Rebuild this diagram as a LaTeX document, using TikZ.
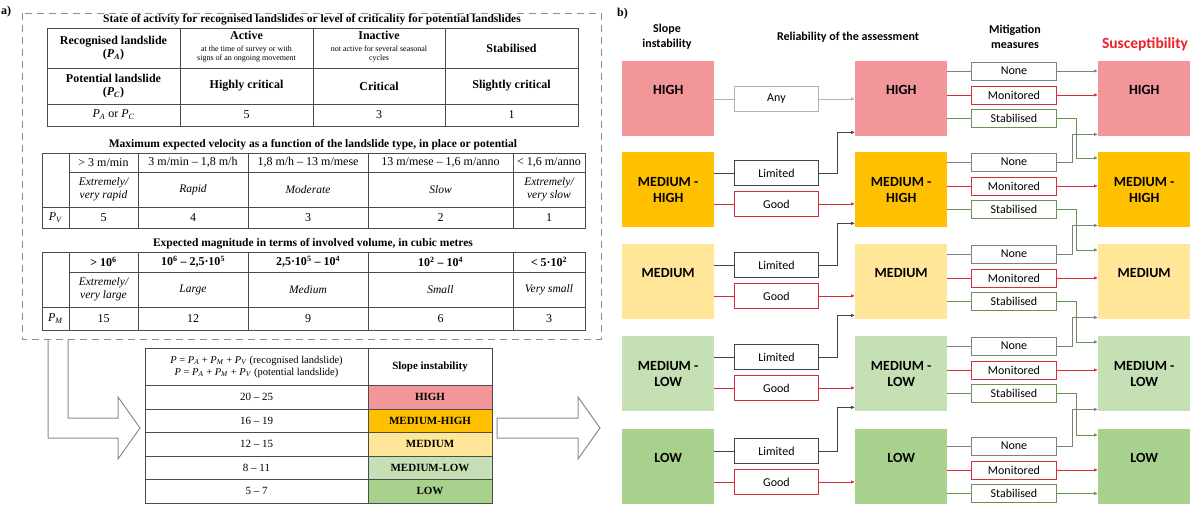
\documentclass[tikz,border=0pt]{standalone}
\usepackage{fontspec}
\setmainfont{Liberation Serif}
\newfontfamily\calib{Carlito}
\usetikzlibrary{arrows.meta, positioning}

\definecolor{cHigh}{RGB}{242,150,153}
\definecolor{cMedHigh}{RGB}{255,192,0}
\definecolor{cMed}{RGB}{255,230,153}
\definecolor{cMedLow}{RGB}{197,224,180}
\definecolor{cLow}{RGB}{169,209,142}
\definecolor{lnGrey}{RGB}{125,128,132}
\definecolor{lnDark}{RGB}{62,68,76}
\definecolor{lnRed}{RGB}{214,45,58}
\definecolor{lnGreen}{RGB}{104,146,82}
\definecolor{lnLight}{RGB}{178,178,178}
\definecolor{susRed}{RGB}{236,32,40}
\definecolor{cFrame}{RGB}{140,140,140}

\newcommand{\pp}[1]{\textit{P}\textsubscript{\textit{#1}}}
\newcommand{\sm}[1]{{\fontsize{8}{9}\selectfont #1}}

\begin{document}
\begin{tikzpicture}[x=1pt, y=-1pt, >={Latex[length=4pt,width=3.5pt]},
  tbl/.style={draw=black!70, line width=0.8pt},
  cell/.style={inner sep=0pt, align=center, font=\fontsize{12}{13.5}\selectfont},
  bcell/.style={cell, font=\bfseries\fontsize{12}{13.5}\selectfont},
  icell/.style={cell, font=\itshape\fontsize{11.5}{13}\selectfont},
  ttl/.style={inner sep=0pt, font=\bfseries\fontsize{11.5}{13}\selectfont},
  big/.style={anchor=north west, minimum width=92pt, minimum height=75pt, inner sep=0pt, align=center, font=\calib\bfseries\fontsize{14}{16}\selectfont},
  rel/.style={draw, anchor=north west, minimum width=84pt, minimum height=25pt, inner sep=0pt, line width=0.9pt, fill=white, font=\calib\fontsize{12}{14}\selectfont},
  mit/.style={rel, minimum width=85pt, minimum height=18pt},
  hd/.style={align=center, inner sep=0pt, font=\calib\bfseries\fontsize{12}{15}\selectfont},
  ln/.style={line width=0.9pt}]

\fill[white] (0,0) rectangle (1195,506);
\useasboundingbox (0,0) rectangle (1195,506);

% a) tables
\node[ttl, anchor=west, font=\bfseries\fontsize{12}{12}\selectfont] (la) at (1,12) {a)};
\draw[cFrame, line width=1pt, dash pattern=on 7pt off 5pt] (22,13) rectangle (601,339);

\node[ttl] (t1) at (312,20) {State of activity for recognised landslides or level of criticality for potential landslides};
\draw[tbl] (47,28) rectangle (578,126) (47,68) -- (578,68) (47,104) -- (578,104)
  (180,28) -- (180,126) (313,28) -- (313,126) (445,28) -- (445,126);
\node[bcell] (rec) at (113.5,48) {Recognised landslide\\(\pp{A})};
\node[cell] (act) at (246.5,47) {\textbf{Active}\\[-2pt]\sm{at the time of survey or with}\\[-4pt]\sm{signs of an ongoing movement}};
\node[cell] (inact) at (379,47) {\textbf{Inactive}\\[-2pt]\sm{not active for several seasonal}\\[-4pt]\sm{cycles}};
\node[bcell] (stabl) at (511.5,48) {Stabilised};
\node[bcell] (pot) at (113.5,86) {Potential landslide\\(\pp{C})};
\node[bcell] (hcrit) at (246.5,86) {Highly critical};
\node[bcell] (crit) at (379,86) {Critical};
\node[bcell] (scrit) at (511.5,86) {Slightly critical};
\node[cell] (pac) at (113.5,115) {\pp{A} or \pp{C}};
\node[cell] (pa5) at (246.5,115) {5};
\node[cell] (pa3) at (379,115) {3};
\node[cell] (pa1) at (511.5,115) {1};

\node[ttl] (t2) at (313,145) {Maximum expected velocity as a function of the landslide type, in place or potential};
\draw[tbl] (42,153) rectangle (585,228) (69,172) -- (585,172) (42,207) -- (585,207)
  (69,153) -- (69,228) (138,153) -- (138,228) (248,153) -- (248,228) (368,153) -- (368,228) (513,153) -- (513,228);
\node[cell] (v1) at (103.5,162.5) {> 3 m/min};
\node[cell] (v2) at (193,162.5) {3 m/min – 1,8 m/h};
\node[cell] (v3) at (308,162.5) {1,8 m/h – 13 m/mese};
\node[cell] (v4) at (440.5,162.5) {13 m/mese – 1,6 m/anno};
\node[cell] (v5) at (549,162.5) {< 1,6 m/anno};
\node[icell] (vc1) at (103.5,189.5) {Extremely/\\very rapid};
\node[icell] (vc2) at (193,189.5) {Rapid};
\node[icell] (vc3) at (308,189.5) {Moderate};
\node[icell] (vc4) at (440.5,189.5) {Slow};
\node[icell] (vc5) at (549,189.5) {Extremely/\\very slow};
\node[cell] (pv) at (55.5,217.5) {\pp{V}};
\node[cell] (pv5) at (103.5,217.5) {5};
\node[cell] (pv4) at (193,217.5) {4};
\node[cell] (pv3) at (308,217.5) {3};
\node[cell] (pv2) at (440.5,217.5) {2};
\node[cell] (pv1) at (549,217.5) {1};

\node[ttl] (t3) at (313,244) {Expected magnitude in terms of involved volume, in cubic metres};
\draw[tbl] (42,252) rectangle (585,330) (69,272) -- (585,272) (42,307) -- (585,307)
  (69,252) -- (69,330) (138,252) -- (138,330) (248,252) -- (248,330) (368,252) -- (368,330) (513,252) -- (513,330);
\node[bcell] (m1) at (103.5,262) {> 10\textsuperscript{6}};
\node[bcell] (m2) at (193,262) {10\textsuperscript{6} – 2,5·10\textsuperscript{5}};
\node[bcell] (m3) at (308,262) {2,5·10\textsuperscript{5} – 10\textsuperscript{4}};
\node[bcell] (m4) at (440.5,262) {10\textsuperscript{2} – 10\textsuperscript{4}};
\node[bcell] (m5) at (549,262) {< 5·10\textsuperscript{2}};
\node[icell] (mc1) at (103.5,289.5) {Extremely/\\very large};
\node[icell] (mc2) at (193,289.5) {Large};
\node[icell] (mc3) at (308,289.5) {Medium};
\node[icell] (mc4) at (440.5,289.5) {Small};
\node[icell] (mc5) at (549,289.5) {Very small};
\node[cell] (pm) at (55.5,318.5) {\pp{M}};
\node[cell] (pm15) at (103.5,318.5) {15};
\node[cell] (pm12) at (193,318.5) {12};
\node[cell] (pm9) at (308,318.5) {9};
\node[cell] (pm6) at (440.5,318.5) {6};
\node[cell] (pm3) at (549,318.5) {3};

% score table
\fill[cHigh] (368,385) rectangle (492,409);
\fill[cMedHigh] (368,409) rectangle (492,432);
\fill[cMed] (368,432) rectangle (492,456);
\fill[cMedLow] (368,456) rectangle (492,479);
\fill[cLow] (368,479) rectangle (492,503);
\draw[tbl] (145,348) rectangle (492,503) (368,348) -- (368,503)
  (145,385) -- (492,385) (145,409) -- (492,409) (145,432) -- (492,432) (145,456) -- (492,456) (145,479) -- (492,479);
\node[cell, font=\fontsize{10.5}{12}\selectfont] (ptot) at (256.5,366.5) {\textit{P} = \pp{A} + \pp{M} + \pp{V} (recognised landslide)\\\textit{P} = \pp{A} + \pp{M} + \pp{V} (potential landslide)};
\node[bcell, font=\bfseries\fontsize{11}{13}\selectfont] (sih) at (430,366.5) {Slope instability};
\node[cell, font=\fontsize{11}{13}\selectfont] (r1) at (256.5,397) {20 – 25};
\node[cell, font=\fontsize{11}{13}\selectfont] (r2) at (256.5,420.5) {16 – 19};
\node[cell, font=\fontsize{11}{13}\selectfont] (r3) at (256.5,444) {12 – 15};
\node[cell, font=\fontsize{11}{13}\selectfont] (r4) at (256.5,467.5) {8 – 11};
\node[cell, font=\fontsize{11}{13}\selectfont] (r5) at (256.5,491) {5 – 7};
\node[bcell, font=\bfseries\fontsize{11}{13}\selectfont] (l1) at (430,397) {HIGH};
\node[bcell, font=\bfseries\fontsize{11}{13}\selectfont] (l2) at (430,420.5) {MEDIUM-HIGH};
\node[bcell, font=\bfseries\fontsize{11}{13}\selectfont] (l3) at (430,444) {MEDIUM};
\node[bcell, font=\bfseries\fontsize{11}{13}\selectfont] (l4) at (430,467.5) {MEDIUM-LOW};
\node[bcell, font=\bfseries\fontsize{11}{13}\selectfont] (l5) at (430,491) {LOW};

% hollow arrows
\draw[cFrame, line width=1pt] (48,339) -- (48,438) -- (118,438) -- (118,459) -- (140,428) -- (118,397) -- (118,418) -- (68,418) -- (68,339);
\draw[cFrame, line width=1pt] (497,418) -- (578,418) -- (578,397) -- (600,428) -- (578,459) -- (578,438) -- (497,438) -- cycle;

% b) flow chart
\node[ttl, anchor=west, font=\bfseries\fontsize{12}{12}\selectfont] (lb) at (617,14) {b)};
\node[hd] (h1) at (667,37) {Slope\\instability};
\node[hd] (h2) at (848,37) {Reliability of the assessment};
\node[hd] (h3) at (1015,37) {Mitigation\\measures};
\node[hd, text=susRed, font=\calib\bfseries\fontsize{15.5}{17}\selectfont] (h4) at (1145,44) {Susceptibility};

\foreach \i/\tp/\cc/\lab/\dd/\mo in {1/61/cHigh/HIGH/17/0, 2/152/cMedHigh/{MEDIUM -\\HIGH}/0/0, 3/244/cMed/MEDIUM/17/0, 4/336/cMedLow/{MEDIUM -\\LOW}/0/0, 5/429/cLow/LOW/17/7}{
  \node[big, fill=\cc, text depth=\dd pt] (si\i) at (622,\tp) {\lab};
  \node[big, fill=\cc, text depth=\dd pt] (rel\i) at (855,\tp) {\lab};
  \node[big, fill=\cc, text depth=\dd pt] (sus\i) at (1098,\tp) {\lab};
  \node[mit, draw=lnGrey] (none\i) at (971,\tp+\mo+0.5) {None};
  \node[mit, draw=lnRed] (mon\i) at (971,\tp+\mo+24.5) {Monitored};
  \node[mit, draw=lnGreen] (stab\i) at (971,\tp+\mo+48) {Stabilised};
}
\node[rel, draw=lnLight] (any1) at (734,86) {Any};
\foreach \i/\tp in {2/152, 3/244, 4/336, 5/430}{
  \node[rel, draw=lnDark] (lim\i) at (734,\tp+8) {Limited};
  \node[rel, draw=lnRed] (good\i) at (734,\tp+39) {Good};
}

\draw[ln, lnLight] (si1.east |- any1.west) -- (any1.west);
\draw[ln, lnLight, ->] (any1.east) -- (any1.east -| rel1.west);
\foreach \i [evaluate=\i as \j using int(\i-1)] in {2,...,5}{
  \draw[ln, lnDark] (si\i.east |- lim\i.west) -- (lim\i.west);
  \draw[ln, lnRed] (si\i.east |- good\i.west) -- (good\i.west);
  \draw[ln, lnDark, ->] (lim\i.east) -- ++(19,0) |- ([yshift=4pt]rel\j.south west);
  \draw[ln, lnRed, ->] (good\i.east) -- (good\i.east -| rel\i.west);
}
\foreach \i in {1,...,5}{
  \draw[ln, lnGrey] (rel\i.east |- none\i.west) -- (none\i.west);
  \draw[ln, lnRed] (rel\i.east |- mon\i.west) -- (mon\i.west);
  \draw[ln, lnGreen] (rel\i.east |- stab\i.west) -- (stab\i.west);
  \draw[ln, lnRed, ->] (mon\i.east) -- (mon\i.east -| sus\i.west);
}
\draw[ln, lnGrey, ->] (none1.east) -- (none1.east -| sus1.west);
\foreach \i [evaluate=\i as \j using int(\i-1)] in {2,...,5}
  \draw[ln, lnGrey, ->] (none\i.east) -- ++(16,0) |- ([yshift=2pt]sus\j.south west);
\foreach \i [evaluate=\i as \k using int(\i+1)] in {1,...,4}
  \draw[ln, lnGreen, ->] (stab\i.east) -- ++(20,0) |- ([yshift=-6pt]sus\k.north west);
\draw[ln, lnGreen, ->] (stab5.east) -- (stab5.east -| sus5.west);
\end{tikzpicture}
\end{document}
